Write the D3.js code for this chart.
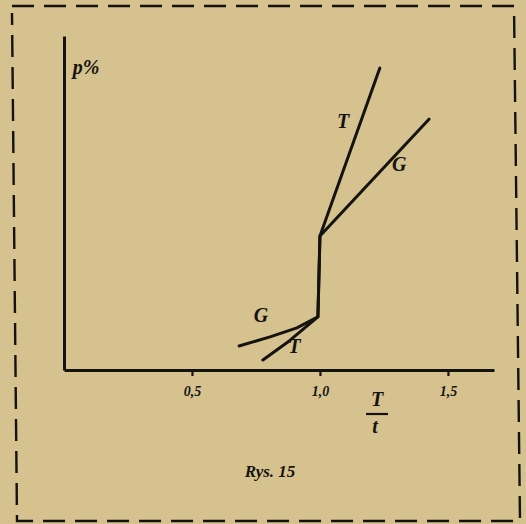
<!DOCTYPE html>
<html><head><meta charset="utf-8">
<script src="https://cdn.jsdelivr.net/npm/d3@7"></script>
<style>html,body{margin:0;padding:0;background:#d5c28f;}svg{display:block;}</style>
</head><body>
<script>
// Data (x = T/t ratio, y = p%)
const xTicks = [0.5, 1.0, 1.5];
const xTickLabels = ["0,5", "1,0", "1,5"];
const seriesG = [[0.684,7.2],[0.805,9.9],[0.91,12.6],[0.992,15.9],[1.0,40.1],[1.426,75.1]];
const seriesT = [[0.777,3.0],[0.88,8.7],[0.992,15.9],[1.0,40.1],[1.234,90.4]];
const curveLabels = [
  {text:"T", at:[1.09,72.5]},
  {text:"G", at:[1.31,59.5]},
  {text:"G", at:[0.77,14.5]},
  {text:"T", at:[0.9,5]}
];
const yLabel = "p%";
const xLabelTop = "T", xLabelBottom = "t";
const caption = "Rys. 15";

const W = 526, H = 524;
const svg = d3.select("body").append("svg").attr("width", W).attr("height", H);
svg.append("rect").attr("width", W).attr("height", H).attr("fill", "#d5c28f");

// dashed frame
const ink = "#15130f";
const frame = d3.path();
frame.moveTo(12, 6); frame.lineTo(514, 6); frame.lineTo(520, 521); frame.lineTo(17, 521); frame.lineTo(12, 13);
svg.append("path").attr("d", frame.toString()).attr("fill","none").attr("stroke", ink)
  .attr("stroke-width", 2.4).attr("stroke-dasharray", "22 10");

const x = d3.scaleLinear().domain([0, 1.68]).range([64, 494]);
const y = d3.scaleLinear().domain([0, 100]).range([370, 36]);

// axes
const xAxis = d3.axisBottom(x).tickValues(xTicks).tickSize(6).tickSizeOuter(0)
  .tickFormat((d,i) => xTickLabels[i]);
const gx = svg.append("g").attr("transform", `translate(0,${y(0)})`).call(xAxis);
gx.select(".domain").attr("stroke", ink).attr("stroke-width", 3);
gx.selectAll(".tick line").attr("stroke", ink).attr("stroke-width", 2.2);
gx.selectAll(".tick text").attr("fill", ink).attr("font-family","Liberation Serif")
  .attr("font-style","italic").attr("font-weight","bold").attr("font-size", 14).attr("dy", "1.2em");

const yAxis = d3.axisLeft(y).tickValues([]).tickSizeOuter(0);
const gy = svg.append("g").attr("transform", `translate(${x(0)},0)`).call(yAxis);
gy.select(".domain").attr("stroke", ink).attr("stroke-width", 3);

const line = d3.line().x(d => x(d[0])).y(d => y(d[1])).curve(d3.curveLinear);
[seriesG, seriesT].forEach(s => {
  svg.append("path").attr("d", line(s)).attr("fill","none").attr("stroke", ink)
    .attr("stroke-width", 3).attr("stroke-linejoin","round").attr("stroke-linecap","round");
});

const txt = (t, px, py, size) => svg.append("text").attr("x", px).attr("y", py).text(t)
  .attr("fill", ink).attr("font-family","Liberation Serif").attr("font-style","italic")
  .attr("font-weight","bold").attr("font-size", size).attr("text-anchor","middle");

curveLabels.forEach(l => txt(l.text, x(l.at[0]), y(l.at[1]), 20));
txt(yLabel, 86, 74, 20);
txt(xLabelTop, 377, 406, 20);
svg.append("line").attr("x1", 366).attr("x2", 388).attr("y1", 414).attr("y2", 414)
  .attr("stroke", ink).attr("stroke-width", 2.2);
txt(xLabelBottom, 375, 433, 20);
txt(caption, 270, 477, 17);
</script>
</body></html>
